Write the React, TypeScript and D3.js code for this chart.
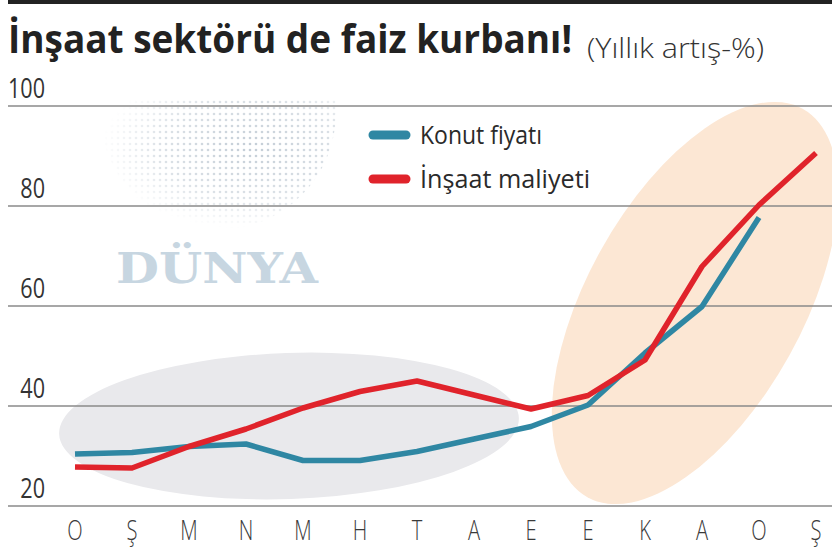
import React, { useLayoutEffect, useRef, useState } from "react";
import * as d3 from "d3";

const months = ["O", "Ş", "M", "N", "M", "H", "T", "A", "E", "E", "K", "A", "O", "Ş"];
const konutFiyati: (number | null)[] = [30.4, 30.7, 31.9, 32.4, 29.1, 29.1, 30.9, 33.4, 35.9, 40.2, 50.6, 59.9, 77.7, null];
const insaatMaliyeti: (number | null)[] = [27.8, 27.6, 31.9, 35.4, 39.6, 42.9, 45.0, 42.2, 39.4, 42.1, 49.2, 67.9, 80.2, 90.6];
const yTicks = [20, 40, 60, 80, 100];
const seriesNames = ["Konut fiyatı", "İnşaat maliyeti"];
const seriesColors = ["#2f87a3", "#e0232b"];
const title = "İnşaat sektörü de faiz kurbanı!";
const subtitle = "(Yıllık artış-%)";

const W = 832;
const H = 548;

export default function App() {
  const idx = months.map((_, i) => i);
  const x = d3.scalePoint<number>().domain(idx).range([75, 816]);
  const y = d3.scaleLinear().domain([20, 100]).range([506, 106]);
  const line = d3
    .line<number | null>()
    .defined((d) => d !== null)
    .x((_, i) => x(i) as number)
    .y((d) => y(d as number));

  const titleRef = useRef<SVGTextElement>(null);
  const subRef = useRef<SVGTextElement>(null);
  const [tsx, setTsx] = useState(0.78);
  const [ssx, setSsx] = useState(0.85);
  useLayoutEffect(() => {
    if (titleRef.current) {
      const w = titleRef.current.getComputedTextLength();
      if (w > 0) setTsx(564 / w);
    }
    if (subRef.current) {
      const w = subRef.current.getComputedTextLength();
      if (w > 0) setSsx(177 / w);
    }
  }, []);

  // globe dots
  const dots: { cx: number; cy: number }[] = [];
  for (let gx = 100; gx <= 340; gx += 6) {
    for (let gy = 102; gy <= 232; gy += 6) {
      dots.push({ cx: gx, cy: gy });
    }
  }

  const font = "'Open Sans', 'DejaVu Sans', sans-serif";

  return (
    <svg
      width={W}
      height={H}
      viewBox={`0 0 ${W} ${H}`}
      style={{ position: "absolute", left: 0, top: 0, background: "#fff" }}
    >
      <defs>
        <clipPath id="globeClip">
          <circle cx={218} cy={112} r={118} />
        </clipPath>
        <radialGradient id="globeFade" cx="0.62" cy="0.35" r="0.6">
          <stop offset="0" stopColor="#fff" stopOpacity={1} />
          <stop offset="0.6" stopColor="#fff" stopOpacity={0.6} />
          <stop offset="1" stopColor="#fff" stopOpacity={0} />
        </radialGradient>
        <mask id="globeMask">
          <rect x={96} y={100} width={250} height={136} fill="url(#globeFade)" />
        </mask>
      </defs>

      {/* top rule */}
      <rect x={8} y={0} width={W - 8} height={4} fill="#222" />

      {/* title */}
      <text
        ref={titleRef}
        transform={`translate(8, 53) scale(${tsx}, 1)`}
        fontFamily={font}
        fontWeight={700}
        fontSize={39}
        fill="#222"
      >
        {title}
      </text>
      <text
        ref={subRef}
        transform={`translate(587, 58) scale(${ssx}, 1)`}
        fontFamily={font}
        fontWeight={300}
        fontSize={28}
        fill="#333"
      >
        {subtitle}
      </text>

      {/* background highlight ellipses */}
      <ellipse cx={289} cy={426} rx={230} ry={73} fill="#e9e9ec" transform="rotate(-2 289 426)" />
      <ellipse cx={695} cy={303} rx={108} ry={222} fill="#fce7d4" transform="rotate(29 695 303)" />

      {/* globe watermark */}
      <g clipPath="url(#globeClip)" mask="url(#globeMask)">
        {dots.map((d, i) => (
          <circle key={i} cx={d.cx} cy={d.cy} r={1.3} fill="#c3cdd6" />
        ))}
      </g>

      {/* DÜNYA watermark */}
      <text
        x={116}
        y={283}
        fontFamily="'DejaVu Serif', 'Liberation Serif', serif"
        fontWeight={700}
        fontSize={42}
        fill="#c7d6e1"
        textLength={202}
        lengthAdjust="spacingAndGlyphs"
      >
        DÜNYA
      </text>

      {/* gridlines */}
      {yTicks.map((t) => (
        <g key={t}>
          <line x1={8} x2={W} y1={y(t)} y2={y(t)} stroke="#8a8a8a" strokeWidth={1.5} />
          <text
            transform={`translate(45, ${y(t) - 8}) scale(0.8, 1)`}
            textAnchor="end"
            fontFamily={font}
            fontSize={27}
            fill="#333"
          >
            {t}
          </text>
        </g>
      ))}

      {/* x labels */}
      {months.map((m, i) => (
        <text
          key={i}
          transform={`translate(${x(i)}, 540) scale(0.72, 1)`}
          textAnchor="middle"
          fontFamily={font}
          fontWeight={300}
          fontSize={28}
          fill="#3a3a3a"
        >
          {m}
        </text>
      ))}

      {/* lines */}
      <path d={line(konutFiyati) || ""} fill="none" stroke={seriesColors[0]} strokeWidth={5.5} strokeLinejoin="round" />
      <path d={line(insaatMaliyeti) || ""} fill="none" stroke={seriesColors[1]} strokeWidth={5.5} strokeLinejoin="round" />

      {/* legend */}
      {seriesNames.map((s, i) => (
        <g key={s} transform={`translate(0, ${i * 44})`}>
          <line x1={373} x2={406} y1={135} y2={135} stroke={seriesColors[i]} strokeWidth={9} strokeLinecap="round" />
          <text
            x={420}
            y={144}
            fontFamily={font}
            fontSize={26}
            fill="#2a2a2a"
            textLength={i === 0 ? 122 : 170}
            lengthAdjust="spacingAndGlyphs"
          >
            {s}
          </text>
        </g>
      ))}
    </svg>
  );
}
